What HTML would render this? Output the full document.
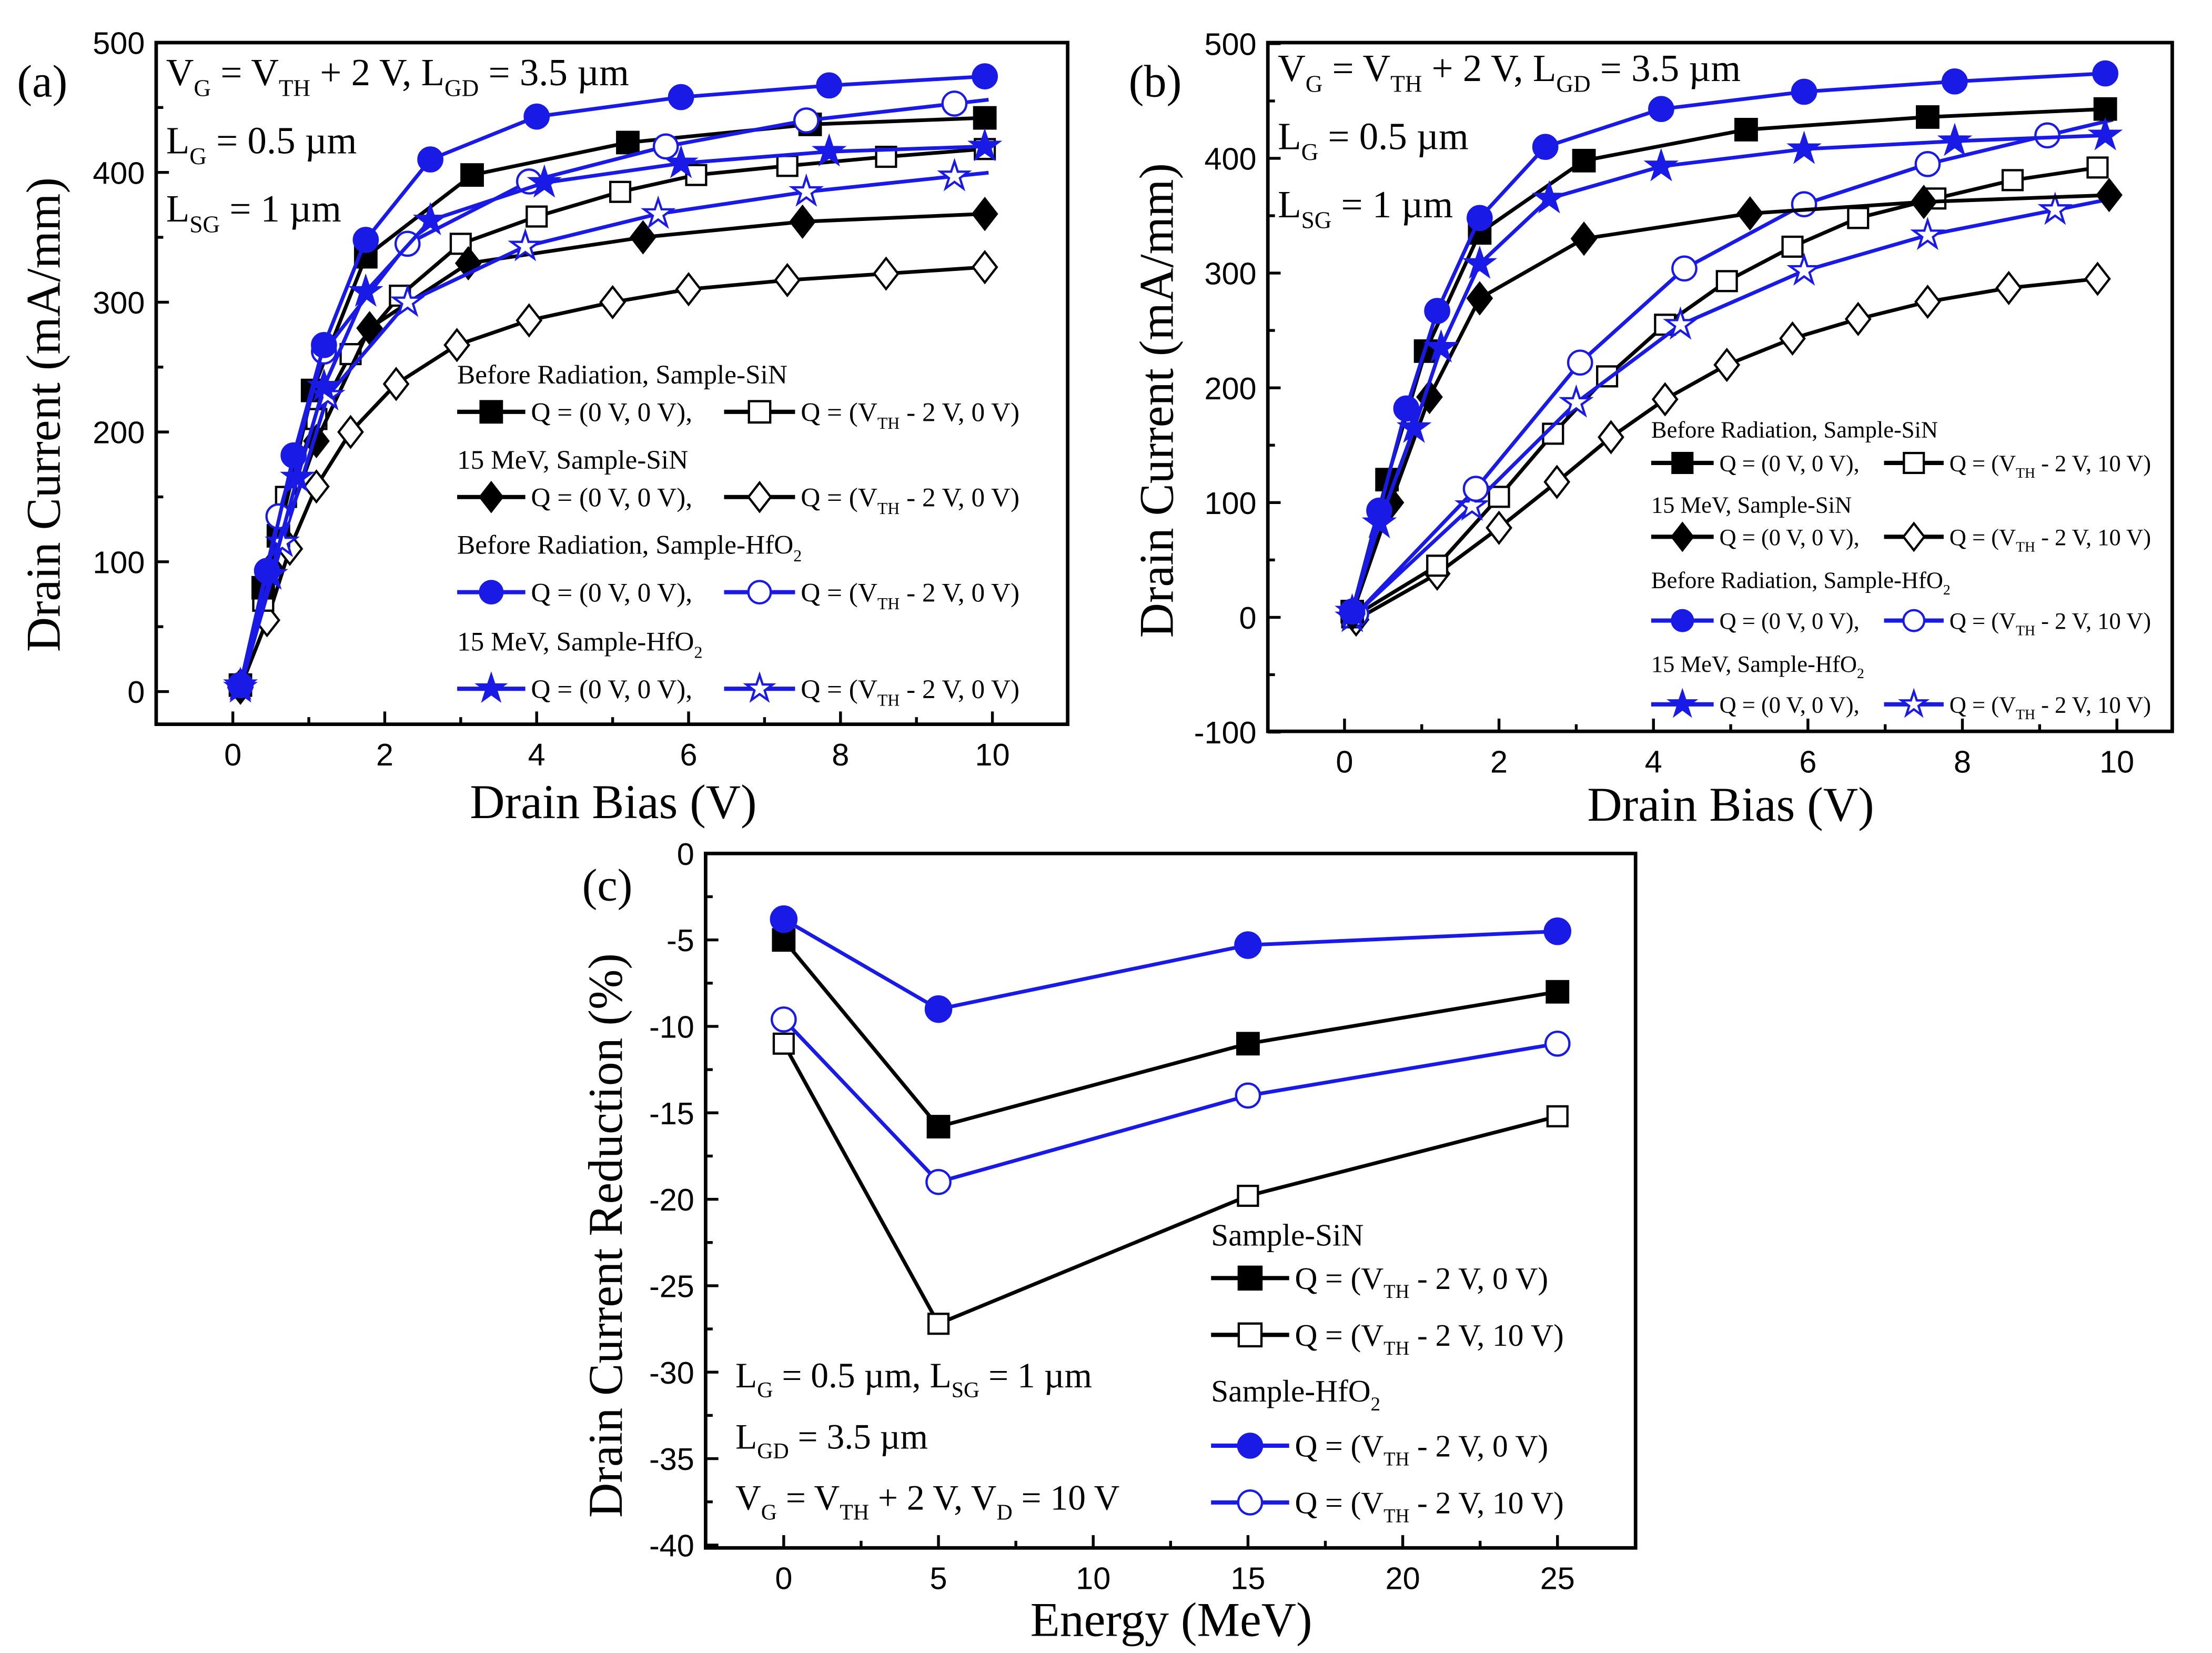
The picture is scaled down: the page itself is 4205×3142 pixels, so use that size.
<!DOCTYPE html>
<html><head><meta charset="utf-8"><style>
html,body{margin:0;padding:0;background:#fff}
svg{display:block}
.ser{font-family:"Liberation Serif",serif}
.san{font-family:"Liberation Sans",sans-serif}
</style></head><body>
<svg id="fig" xmlns="http://www.w3.org/2000/svg" width="4205" height="3142" viewBox="0 0 1558 1164" preserveAspectRatio="none">
<rect width="1558" height="1164" fill="#fff"/>
</svg>
<script>
// ===== Panel (a) data: [V, mA/mm] =====
const aSiNBeforeQ0 = [[0.1,5],[0.4,80],[0.6,120],[1.05,232],[1.75,335],[3.15,398],[5.2,423],[7.6,437],[9.9,442]];
const aSiNBeforeQ2 = [[0.1,5],[0.4,70],[0.7,150],[1.1,210],[1.55,260],[2.2,305],[3,345],[4,366],[5.1,385],[6.1,398],[7.3,405],[8.6,412],[9.9,418]];
const aSiN15Q0 = [[0.1,5],[0.5,95],[1.1,193],[1.8,280],[3.1,330],[5.4,350],[7.5,362],[9.9,368]];
const aSiN15Q2 = [[0.1,3],[0.45,55],[0.75,110],[1.1,158],[1.55,200],[2.15,237],[2.95,267],[3.9,286],[5.0,300],[6.0,310],[7.3,317],[8.6,322],[9.9,327]];
const aHfBeforeQ0 = [[0.1,5],[0.45,93],[0.8,182],[1.2,267],[1.75,348],[2.6,410],[4.0,443],[5.9,458],[7.85,467],[9.9,474]];
const aHfBeforeQ2 = [[0.1,5],[0.6,135],[1.2,262],[2.3,345],[3.9,393],[5.7,420],[7.55,440],[9.5,453]];
const aHf15Q0 = [[0.1,5],[0.5,90],[0.85,165],[1.2,235],[1.75,308],[2.6,363],[4.1,392],[5.9,407],[7.85,416],[9.9,420]];
const aHf15Q2 = [[0.1,3],[0.65,115],[1.25,228],[2.3,300],[3.85,343],[5.6,368],[7.55,385],[9.5,397]];
// ===== Panel (b) data =====
const bSiNBeforeQ0 = [[0.1,5],[0.55,120],[1.05,232],[1.75,335],[3.1,398],[5.2,425],[7.55,436],[9.85,443]];
const bSiNBeforeQ2 = [[0.1,0],[1.2,45],[2.0,105],[2.7,160],[3.4,210],[4.15,255],[4.95,293],[5.8,323],[6.65,348],[7.65,365],[8.65,381],[9.75,392]];
const bSiN15Q0 = [[0.1,3],[0.6,100],[1.1,192],[1.75,278],[3.1,330],[5.25,352],[7.5,362],[9.9,368]];
const bSiN15Q2 = [[0.15,-2],[1.2,38],[2.0,78],[2.75,118],[3.45,157],[4.15,190],[4.95,220],[5.8,243],[6.65,260],[7.55,275],[8.6,287],[9.75,295]];
const bHfBeforeQ0 = [[0.1,5],[0.45,93],[0.8,182],[1.2,267],[1.75,348],[2.6,410],[4.1,443],[5.95,458],[7.9,467],[9.85,474]];
const bHfBeforeQ2 = [[0.15,3],[1.7,112],[3.05,222],[4.4,304],[5.95,360],[7.55,395],[9.1,420]];
const bHf15Q0 = [[0.1,5],[0.45,82],[0.9,165],[1.25,235],[1.75,308],[2.65,365],[4.1,393],[5.95,408],[7.9,415],[9.85,420]];
const bHf15Q2 = [[0.1,0],[1.65,97],[3.0,187],[4.35,255],[5.95,302],[7.55,333],[9.2,355]];
// ===== Panel (c) data =====
const cEnergy = [0,5,15,25];
const cSiNQ0 = [-5,-15.8,-11,-8];
const cSiNQ10 = [-11,-27.2,-19.8,-15.2];
const cHfQ0 = [-3.8,-9,-5.3,-4.5];
const cHfQ10 = [-9.6,-19,-14,-11];
// tick labels
const abXTicks = [0,2,4,6,8,10];
const aYTicks = [0,100,200,300,400,500];
const bYTicks = [-100,0,100,200,300,400,500];
const cXTicks = [0,5,10,15,20,25];
const cYTicks = [0,-5,-10,-15,-20,-25,-30,-35,-40];

const NS="http://www.w3.org/2000/svg";
const svg=document.getElementById('fig');
const BLK="#000", BLU="#1a1ae6";
function mk(tag,attrs,parent){const e=document.createElementNS(NS,tag);for(const k in attrs)e.setAttribute(k,attrs[k]);(parent||svg).appendChild(e);return e;}
function grp(name){const g=mk('g',{});


return g;}

function marker(g,type,filled,color,x,y,s){
  const fill=filled?color:'#fff';const sw=1.6;let e;
  if(type==='sq') e=mk('rect',{x:x-s,y:y-s,width:2*s,height:2*s,fill:fill,stroke:color,'stroke-width':sw},g);
  else if(type==='di') e=mk('polygon',{points:`${x},${y-s*1.35} ${x+s*1.05},${y} ${x},${y+s*1.35} ${x-s*1.05},${y}`,fill:fill,stroke:color,'stroke-width':sw},g);
  else if(type==='ci') e=mk('circle',{cx:x,cy:y,r:s*1.05,fill:fill,stroke:color,'stroke-width':sw},g);
  else { let p=[];for(let i=0;i<10;i++){const r=i%2?s*0.5:s*1.3;const a=-Math.PI/2+i*Math.PI/5;p.push((x+r*Math.cos(a)).toFixed(1)+','+(y+r*Math.sin(a)).toFixed(1));}
    e=mk('polygon',{points:p.join(' '),fill:fill,stroke:color,'stroke-width':sw},g);}
  
  
}

function axes(P,name){
  const g=grp(name+'-axes');
  const fr=mk('rect',{x:P.x0,y:P.y0,width:P.x1-P.x0,height:P.y1-P.y0,fill:'none',stroke:'#000','stroke-width':2.5},g);
  
  
  P.xt.forEach((v,i)=>{const x=P.sx(v);
    mk('line',{x1:x,y1:P.y1,x2:x,y2:P.y1-9,stroke:'#000','stroke-width':2},g);
    if(i<P.xt.length-1){const xm=P.sx((v+P.xt[i+1])/2);mk('line',{x1:xm,y1:P.y1,x2:xm,y2:P.y1-5,stroke:'#000','stroke-width':2},g);}
    const t=mk('text',{x:x,y:P.y1+29,'text-anchor':'middle','font-size':22,class:'san'},g);t.textContent=v;
    
    
  });
  P.yt.forEach((v,i)=>{const y=P.sy(v);
    mk('line',{x1:P.x0,y1:y,x2:P.x0+9,y2:y,stroke:'#000','stroke-width':2},g);
    if(i<P.yt.length-1){const ym=P.sy((v+P.yt[i+1])/2);mk('line',{x1:P.x0,y1:ym,x2:P.x0+5,y2:ym,stroke:'#000','stroke-width':2},g);}
    const t=mk('text',{x:P.x0-8,y:y+8,'text-anchor':'end','font-size':22,class:'san'},g);t.textContent=v;
    
    
  });
  const xt=mk('text',{x:P.xtx,y:P.xty,'text-anchor':'middle','font-size':34,class:'ser'},g);xt.textContent=P.xtitle;
  
  
  const yt=mk('text',{x:0,y:0,'text-anchor':'middle','font-size':34,class:'ser',transform:`translate(${P.ytx},${P.yty}) rotate(-90)`},g);yt.textContent=P.ytitle;
  
  
}

function series(P,pts,type,filled,color,name,s,extend){
  const g=grp(name);
  let d=pts.map((p,i)=>(i?'L':'M')+P.sx(p[0]).toFixed(1)+','+P.sy(p[1]).toFixed(1)).join(' ');
  if(extend){const a=pts[pts.length-2],b=pts[pts.length-1];const xe=9.95;const ye=b[1]+(b[1]-a[1])/(b[0]-a[0])*(xe-b[0]);d+=' L'+P.sx(xe).toFixed(1)+','+P.sy(ye).toFixed(1);}
  const l=mk('path',{d:d,fill:'none',stroke:color,'stroke-width':2.6,'stroke-linejoin':'round'},g);
  
  
  pts.forEach(p=>marker(g,type,filled,color,P.sx(p[0]),P.sy(p[1]),s));
}

function rich(parent,x,y,size,parts,anchor){
  const t=mk('text',{x:x,y:y,'font-size':size,class:'ser','text-anchor':anchor||'start'},parent);
  parts.forEach(p=>{const ts=mk('tspan',{},t);
    if(typeof p==='string'){ts.textContent=p;}
    else {ts.textContent=p[0];ts.setAttribute('font-size',size*0.62);ts.setAttribute('dy',size*0.28);
      const back=mk('tspan',{dy:-size*0.28},t);back.textContent='\u200b';}
  });
  return t;
}

function legRow(L,y,items){
  items.forEach(it=>{
    const g=grp('legend-entry');
    mk('line',{x1:it.x1,y1:y,x2:it.x2,y2:y,stroke:it.c,'stroke-width':3},g);
    marker(g,it.t,it.f,it.c,(it.x1+it.x2)/2,y,L.s);
    rich(g,it.x2+4,y+L.fs*0.35,L.fs,it.txt);
  });
}
function legHead(x,y,fs,parts){const g=grp('legend-header');rich(g,x,y,fs,parts);}

// ===== Panel A =====
const PA={x0:110,x1:752,y0:30,y1:510,sx:v=>164+v*53.5,sy:v=>487-v*0.914,xt:abXTicks,yt:aYTicks,
  xtitle:'Drain Bias (V)',xtx:432,xty:576,ytitle:'Drain Current (mA/mm)',ytx:42,yty:292};
axes(PA,'panel-a');
series(PA,aSiN15Q2,'di',false,BLK,'a-sin-15mev-q2',8);
series(PA,aSiNBeforeQ2,'sq',false,BLK,'a-sin-before-q2',7);
series(PA,aSiN15Q0,'di',true,BLK,'a-sin-15mev-q0',8);
series(PA,aSiNBeforeQ0,'sq',true,BLK,'a-sin-before-q0',7.5);
series(PA,aHf15Q2,'st',false,BLU,'a-hfo2-15mev-q2',8,true);
series(PA,aHfBeforeQ2,'ci',false,BLU,'a-hfo2-before-q2',8,true);
series(PA,aHf15Q0,'st',true,BLU,'a-hfo2-15mev-q0',8);
series(PA,aHfBeforeQ0,'ci',true,BLU,'a-hfo2-before-q0',8);
(function(){const fs=19,L={fs:fs,s:7.5};
 const row=(t,c,y,last)=>legRow(L,y,[{x1:322,x2:370,t:t,f:true,c:c,txt:['Q = (0 V, 0 V),']},{x1:510,x2:560,t:t,f:false,c:c,txt:['Q = (V',['TH'],' - 2 V, '+last+')']}]);
 legHead(322,270,fs,['Before Radiation, Sample-SiN']);row('sq',BLK,290,'0 V');
 legHead(322,330,fs,['15 MeV, Sample-SiN']);row('di',BLK,350,'0 V');
 legHead(322,390,fs,['Before Radiation, Sample-HfO',['2']]);row('ci',BLU,417,'0 V');
 legHead(322,458,fs,['15 MeV, Sample-HfO',['2']]);row('st',BLU,485,'0 V');
})();
const ga=grp('panel-a-annotation');
rich(ga,117,60,27,['V',['G'],' = V',['TH'],' + 2 V, L',['GD'],' = 3.5 µm']);
rich(ga,117,108,27,['L',['G'],' = 0.5 µm']);
rich(ga,117,156,27,['L',['SG'],' = 1 µm']);
rich(grp('panel-a-label'),12,68,32,['(a)']);

// ===== Panel B =====
const PB={x0:893,x1:1530,y0:30,y1:515,sx:v=>947+v*54.4,sy:v=>434.7-v*0.808,xt:abXTicks,yt:bYTicks,
  xtitle:'Drain Bias (V)',xtx:1219,xty:578,ytitle:'Drain Current (mA/mm)',ytx:826,yty:282};
axes(PB,'panel-b');
series(PB,bSiN15Q2,'di',false,BLK,'b-sin-15mev-q2',8);
series(PB,bSiNBeforeQ2,'sq',false,BLK,'b-sin-before-q2',7);
series(PB,bHf15Q2,'st',false,BLU,'b-hfo2-15mev-q2',8,true);
series(PB,bHfBeforeQ2,'ci',false,BLU,'b-hfo2-before-q2',8,true);
series(PB,bSiN15Q0,'di',true,BLK,'b-sin-15mev-q0',8);
series(PB,bSiNBeforeQ0,'sq',true,BLK,'b-sin-before-q0',7.5);
series(PB,bHf15Q0,'st',true,BLU,'b-hfo2-15mev-q0',8);
series(PB,bHfBeforeQ0,'ci',true,BLU,'b-hfo2-before-q0',8);
(function(){const fs=16.5,L={fs:fs,s:7};
 const row=(t,c,y)=>legRow(L,y,[{x1:1163,x2:1207,t:t,f:true,c:c,txt:['Q = (0 V, 0 V),']},{x1:1327,x2:1369,t:t,f:false,c:c,txt:['Q = (V',['TH'],' - 2 V, 10 V)']}]);
 legHead(1163,308,fs,['Before Radiation, Sample-SiN']);row('sq',BLK,326);
 legHead(1163,361,fs,['15 MeV, Sample-SiN']);row('di',BLK,378);
 legHead(1163,414,fs,['Before Radiation, Sample-HfO',['2']]);row('ci',BLU,437);
 legHead(1163,473,fs,['15 MeV, Sample-HfO',['2']]);row('st',BLU,496);
})();
const gb=grp('panel-b-annotation');
rich(gb,900,57,27,['V',['G'],' = V',['TH'],' + 2 V, L',['GD'],' = 3.5 µm']);
rich(gb,900,105,27,['L',['G'],' = 0.5 µm']);
rich(gb,900,153,27,['L',['SG'],' = 1 µm']);
rich(grp('panel-b-label'),795,68,32,['(b)']);

// ===== Panel C =====
const PC={x0:497,x1:1152,y0:601,y1:1090,sx:v=>552+v*21.8,sy:v=>601-v*12.175,xt:cXTicks,yt:cYTicks,
  xtitle:'Energy (MeV)',xtx:825,xty:1152,ytitle:'Drain Current Reduction (%)',ytx:438,yty:870};
axes(PC,'panel-c');
const zip=a=>cEnergy.map((e,i)=>[e,a[i]]);
series(PC,zip(cSiNQ10),'sq',false,BLK,'c-sin-q10',7);
series(PC,zip(cSiNQ0),'sq',true,BLK,'c-sin-q0',7.5);
series(PC,zip(cHfQ10),'ci',false,BLU,'c-hfo2-q10',8);
series(PC,zip(cHfQ0),'ci',true,BLU,'c-hfo2-q0',8.5);
(function(){const fs=22,L={fs:fs,s:8};
 const row=(t,f,c,y,last)=>legRow(L,y,[{x1:853,x2:908,t:t,f:f,c:c,txt:['Q = (V',['TH'],' - 2 V, '+last+')']}]);
 legHead(853,877,fs,['Sample-SiN']);row('sq',true,BLK,900,'0 V');row('sq',false,BLK,940,'10 V');
 legHead(853,987,fs,['Sample-HfO',['2']]);row('ci',true,BLU,1018,'0 V');row('ci',false,BLU,1058,'10 V');
})();
const gc=grp('panel-c-annotation');
rich(gc,518,977,25,['L',['G'],' = 0.5 µm, L',['SG'],' = 1 µm']);
rich(gc,518,1020,25,['L',['GD'],' = 3.5 µm']);
rich(gc,518,1063,25,['V',['G'],' = V',['TH'],' + 2 V, V',['D'],' = 10 V']);
rich(grp('panel-c-label'),410,634,32,['(c)']);
</script>
</body></html>
